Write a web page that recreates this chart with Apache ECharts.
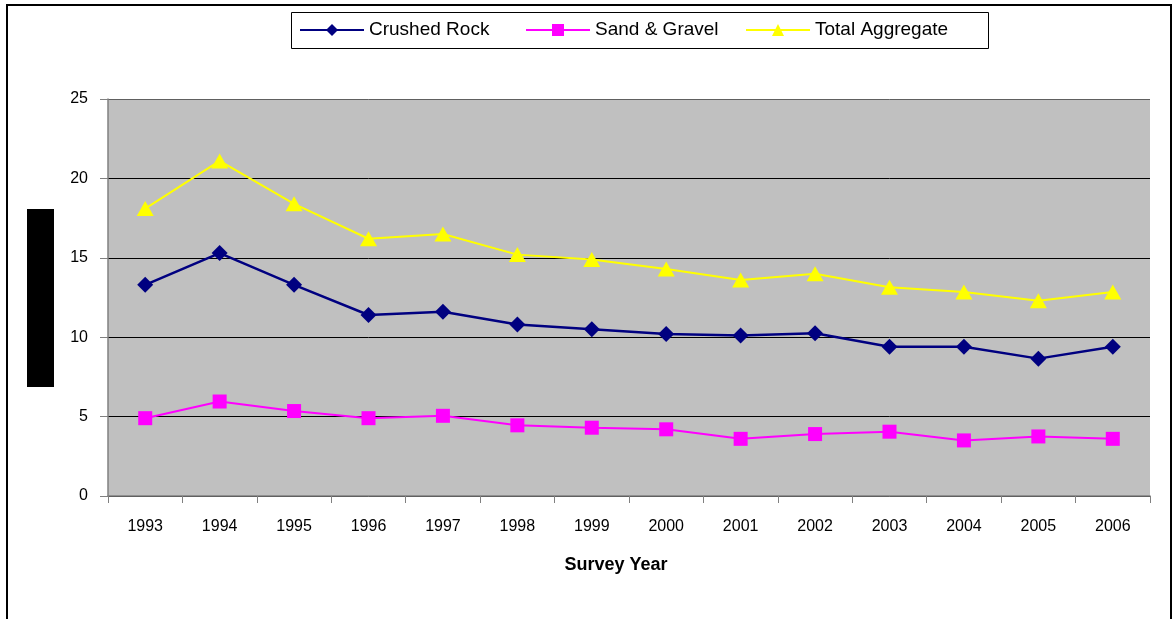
<!DOCTYPE html>
<html>
<head>
<meta charset="utf-8">
<script src="https://cdn.jsdelivr.net/npm/echarts@6/dist/echarts.min.js"></script>
<style>
  html, body { margin: 0; padding: 0; background: #fff; }
  #chart { width: 1172px; height: 619px; }
</style>
</head>
<body>
<div id="chart"></div>
<script>
const years = ['1993','1994','1995','1996','1997','1998','1999','2000','2001','2002','2003','2004','2005','2006'];
const crushedRock = [13.3, 15.3, 13.3, 11.4, 11.6, 10.8, 10.5, 10.2, 10.1, 10.25, 9.4, 9.4, 8.65, 9.4];
const sandGravel = [4.9, 5.95, 5.35, 4.9, 5.05, 4.45, 4.3, 4.2, 3.6, 3.9, 4.05, 3.5, 3.75, 3.6];
const totalAggregate = [18.1, 21.1, 18.4, 16.2, 16.5, 15.2, 14.9, 14.3, 13.6, 14.0, 13.15, 12.85, 12.3, 12.85];
const seriesNames = ['Crushed Rock', 'Sand & Gravel', 'Total Aggregate'];
const yTicks = { min: 0, max: 25, interval: 5 };
const xTitle = 'Survey Year';

const FONT = '"Liberation Sans", Arial, sans-serif';
const legendLefts = [299, 525, 745];

const legends = seriesNames.map((n, i) => ({
  left: legendLefts[i], top: 19,
  orient: 'horizontal',
  data: [n],
  itemWidth: 64, itemHeight: 15,
  padding: 0,
  textStyle: { fontFamily: FONT, fontSize: 19, color: '#000', lineHeight: 22 }
}));

const chart = echarts.init(document.getElementById('chart'), null, { renderer: 'canvas' });
chart.setOption({
  backgroundColor: '#ffffff',
  animation: false,
  graphic: [
    { type: 'rect', shape: { x: 7, y: 5, width: 1164, height: 630 }, style: { fill: 'none', stroke: '#000', lineWidth: 2 }, silent: true, z: -1 },
    { type: 'rect', shape: { x: 291.5, y: 12.5, width: 697, height: 36 }, style: { fill: '#fff', stroke: '#000', lineWidth: 1 }, silent: true, z: -1 },
    { type: 'rect', shape: { x: 27, y: 209, width: 27, height: 178 }, style: { fill: '#000' }, silent: true }
  ],
  legend: legends,
  grid: {
    left: 108, right: 22, top: 99, bottom: 123,
    show: true, backgroundColor: '#C0C0C0', borderWidth: 0
  },
  xAxis: {
    type: 'category',
    data: years,
    boundaryGap: true,
    name: xTitle,
    nameLocation: 'middle',
    nameGap: 60,
    nameTextStyle: { fontFamily: FONT, fontSize: 18, fontWeight: 'bold', color: '#000', padding: [0, 26, 0, 0] },
    axisLine: { lineStyle: { color: '#808080', width: 1.5 } },
    axisTick: { show: true, length: 7, lineStyle: { color: '#808080' } },
    axisLabel: { fontFamily: FONT, fontSize: 16, color: '#000', margin: 23, interval: 0 },
    splitLine: { show: false }
  },
  yAxis: {
    type: 'value',
    min: yTicks.min, max: yTicks.max, interval: yTicks.interval,
    axisLine: { show: true, lineStyle: { color: '#808080', width: 1.5 } },
    axisTick: { show: true, length: 8, lineStyle: { color: '#808080' } },
    axisLabel: { fontFamily: FONT, fontSize: 16, color: '#000', margin: 20 },
    splitLine: { show: true, lineStyle: { color: ['#000', '#000', '#000', '#000', '#000', '#606060'], width: 1 } }
  },
  series: [
    {
      name: seriesNames[0], type: 'line', data: crushedRock,
      symbol: 'diamond', symbolSize: [16, 16],
      lineStyle: { color: '#000080', width: 2.5 },
      itemStyle: { color: '#000080' }
    },
    {
      name: seriesNames[1], type: 'line', data: sandGravel,
      symbol: 'rect', symbolSize: [14, 14],
      lineStyle: { color: '#FF00FF', width: 2 },
      itemStyle: { color: '#FF00FF' }
    },
    {
      name: seriesNames[2], type: 'line', data: totalAggregate,
      symbol: 'triangle', symbolSize: [17, 15],
      lineStyle: { color: '#FFFF00', width: 2 },
      itemStyle: { color: '#FFFF00' }
    }
  ]
});
</script>
</body>
</html>
